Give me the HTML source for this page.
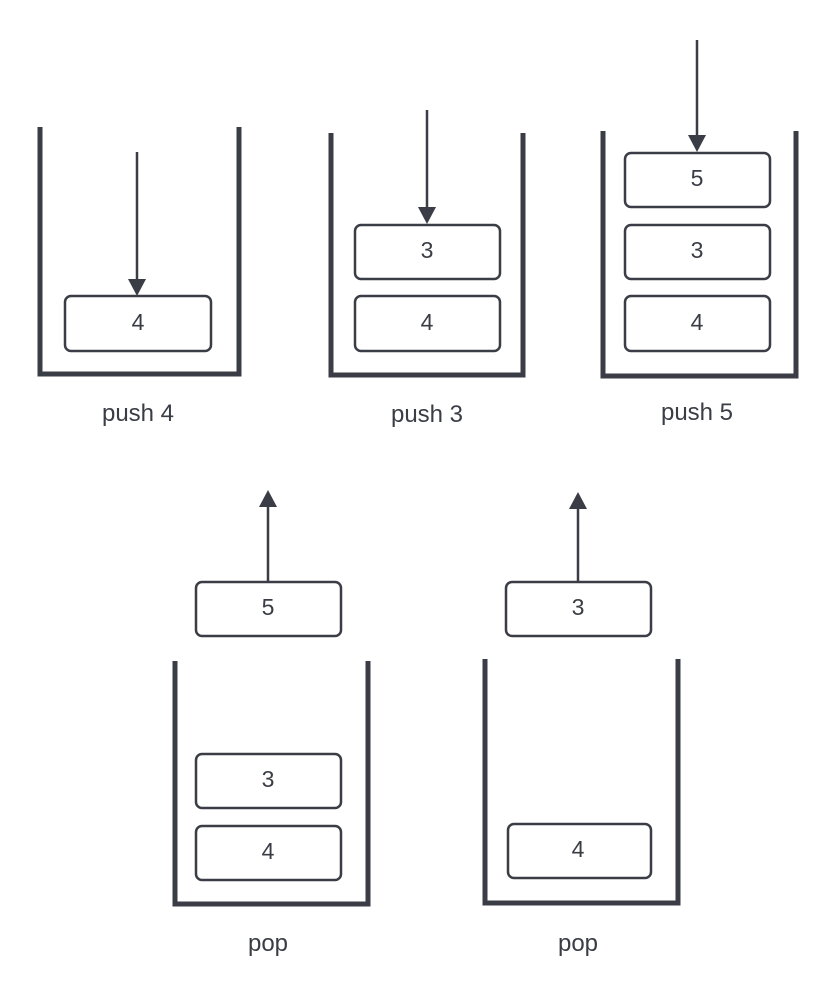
<!DOCTYPE html>
<html><head><meta charset="utf-8"><style>
html,body{margin:0;padding:0;background:#fff;}
svg{display:block;}
text{font-family:"Liberation Sans",sans-serif;fill:#3a3d45;}
</style></head><body>
<svg width="837" height="1007" viewBox="0 0 837 1007" xmlns="http://www.w3.org/2000/svg">
<g stroke="#3a3d45" fill="none">
<path d="M40 127 V374 H239 V127" stroke-width="5"/>
<path d="M331 133 V375 H523 V133" stroke-width="5"/>
<path d="M603 131 V376 H796 V131" stroke-width="5"/>
<path d="M175 661 V904 H368 V661" stroke-width="5"/>
<path d="M485 659 V903 H678 V659" stroke-width="5"/>
<g stroke-width="2.5" fill="#fff">
<rect x="65" y="296" width="146" height="55" rx="6"/>
<rect x="355" y="225" width="145" height="54" rx="6"/>
<rect x="355" y="296" width="145" height="55" rx="6"/>
<rect x="625" y="153" width="145" height="54" rx="6"/>
<rect x="625" y="225" width="145" height="54" rx="6"/>
<rect x="625" y="296" width="145" height="55" rx="6"/>
<rect x="196" y="754" width="145" height="54" rx="6"/>
<rect x="196" y="826" width="145" height="54" rx="6"/>
<rect x="196" y="582" width="145" height="54" rx="6"/>
<rect x="508" y="824" width="143" height="54" rx="6"/>
<rect x="506" y="582" width="145" height="54" rx="6"/>
</g>
<g stroke-width="2.5">
<line x1="137" y1="152" x2="137" y2="282"/>
<line x1="427" y1="110" x2="427" y2="210"/>
<line x1="697" y1="40" x2="697" y2="138"/>
<line x1="268" y1="581" x2="268" y2="505"/>
<line x1="578" y1="581" x2="578" y2="507"/>
</g>
</g>
<g fill="#3a3d45">
<polygon points="128,279 146,279 137,296"/>
<polygon points="418,207 436,207 427,224"/>
<polygon points="688,135 706,135 697,152"/>
<polygon points="259,507 277,507 268,490"/>
<polygon points="569,509 587,509 578,492"/>
</g>
<g font-size="23" text-anchor="middle">
<text x="138" y="330">4</text>
<text x="427" y="258">3</text>
<text x="427" y="330">4</text>
<text x="697" y="186">5</text>
<text x="697" y="258">3</text>
<text x="697" y="330">4</text>
<text x="268" y="787">3</text>
<text x="268" y="859">4</text>
<text x="268" y="615">5</text>
<text x="578" y="857">4</text>
<text x="578" y="615">3</text>
</g>
<g font-size="24" text-anchor="middle">
<text x="138" y="421">push 4</text>
<text x="427" y="422">push 3</text>
<text x="697" y="420">push 5</text>
<text x="268" y="951">pop</text>
<text x="578" y="951">pop</text>
</g>
</svg>
</body></html>
